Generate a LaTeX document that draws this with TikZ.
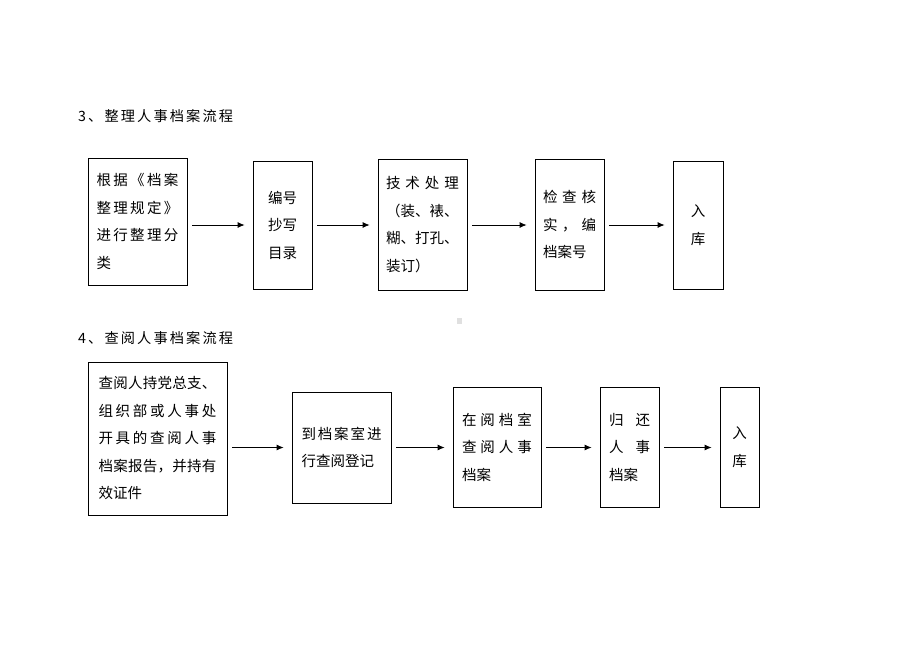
\documentclass[tikz,border=0pt]{standalone}
\usepackage{fontspec}
\usepackage{tikz}
\usetikzlibrary{arrows.meta}
\newfontfamily\cjk{Noto Sans CJK SC}
\newfontfamily\cjkwide[LetterSpace=15]{Noto Sans CJK SC}
\newcommand{\fillgap}{\hskip 0pt plus 1filll}

\begin{document}
\begin{tikzpicture}[x=1pt,y=-1pt]

          \tikzstyle{stepBox} = [draw, line width=0.8pt, inner sep=0pt, align=left,
                                 font=\cjk\fontsize{14.5}{27.5}\selectfont];
          \tikzstyle{titleNode} = [anchor=west, inner sep=0pt,
                                   font=\cjkwide\fontsize{14.2}{16}\selectfont];
          \tikzstyle{flowEdge} = [line width=0.8pt, -{Latex[length=7pt,width=6pt]},
                                  shorten <=5pt, shorten >=8pt];

          \useasboundingbox (0,0) rectangle (920,651);

          % 3
          \node[titleNode] (titleA) at (78,116) {3、整理人事档案流程};

          \node[stepBox, minimum width=99pt, minimum height=127pt, text width=82pt] (sort) at (137.5,221.5)
               {根\fillgap 据\fillgap 《\fillgap 档\fillgap 案\\
                整\fillgap 理\fillgap 规\fillgap 定\fillgap 》\\
                进\fillgap 行\fillgap 整\fillgap 理\fillgap 分\\
                类};
          \node[stepBox, minimum width=59pt, minimum height=128pt, align=center] (catalog) at (282.5,225)
               {编号\\抄写\\目录};
          \node[stepBox, minimum width=89pt, minimum height=131pt, text width=73pt] (process) at (422.5,224.5)
               {技\fillgap 术\fillgap 处\fillgap 理\\
                （装、裱、\\
                糊、打孔、\\
                装订）};
          \node[stepBox, minimum width=69pt, minimum height=131pt, text width=53pt] (check) at (569.5,224.5)
               {检\fillgap 查\fillgap 核\\
                实\fillgap ，\fillgap 编\\
                档案号};
          \node[stepBox, minimum width=50pt, minimum height=128pt, align=center] (storeA) at (698,225)
               {入\\库};

          \draw[flowEdge] (sort.east |- catalog.west) -- (catalog.west);
          \draw[flowEdge] (catalog.east) -- (process.west |- catalog.east);
          \draw[flowEdge] (process.east |- catalog.east) -- (check.west |- catalog.east);
          \draw[flowEdge] (check.east |- catalog.east) -- (storeA.west |- catalog.east);

          % 4
          \node[titleNode] (titleB) at (78,338) {4、查阅人事档案流程};

          \node[stepBox, minimum width=139pt, minimum height=153pt, text width=118pt] (apply) at (157.5,438.5)
               {查\fillgap 阅\fillgap 人\fillgap 持\fillgap 党\fillgap 总\fillgap 支\fillgap 、\\
                组\fillgap 织\fillgap 部\fillgap 或\fillgap 人\fillgap 事\fillgap 处\\
                开\fillgap 具\fillgap 的\fillgap 查\fillgap 阅\fillgap 人\fillgap 事\\
                档\fillgap 案\fillgap 报\fillgap 告\fillgap ，\fillgap 并\fillgap 持\fillgap 有\\
                效证件};
          \node[stepBox, minimum width=99pt, minimum height=111pt, text width=80pt] (register) at (341.5,447.5)
               {到\fillgap 档\fillgap 案\fillgap 室\fillgap 进\\
                行查阅登记};
          \node[stepBox, minimum width=88pt, minimum height=120pt, text width=70pt] (read) at (497,447)
               {在\fillgap 阅\fillgap 档\fillgap 室\\
                查\fillgap 阅\fillgap 人\fillgap 事\\
                档案};
          \node[stepBox, minimum width=59pt, minimum height=120pt, text width=41pt] (giveback) at (629.5,447)
               {归\fillgap 还\\
                人\fillgap 事\\
                档案\\[10pt]};
          \node[stepBox, minimum width=39pt, minimum height=120pt, align=center] (storeB) at (739.5,447)
               {入\\库};

          \draw[flowEdge] (apply.east |- register.west) -- (register.west);
          \draw[flowEdge] (register.east) -- (read.west |- register.east);
          \draw[flowEdge] (read.east |- register.east) -- (giveback.west |- register.east);
          \draw[flowEdge] (giveback.east |- register.east) -- (storeB.west |- register.east);

          \fill[black!12] (457,318) rectangle (462,324);
        \end{tikzpicture}
\end{document}
